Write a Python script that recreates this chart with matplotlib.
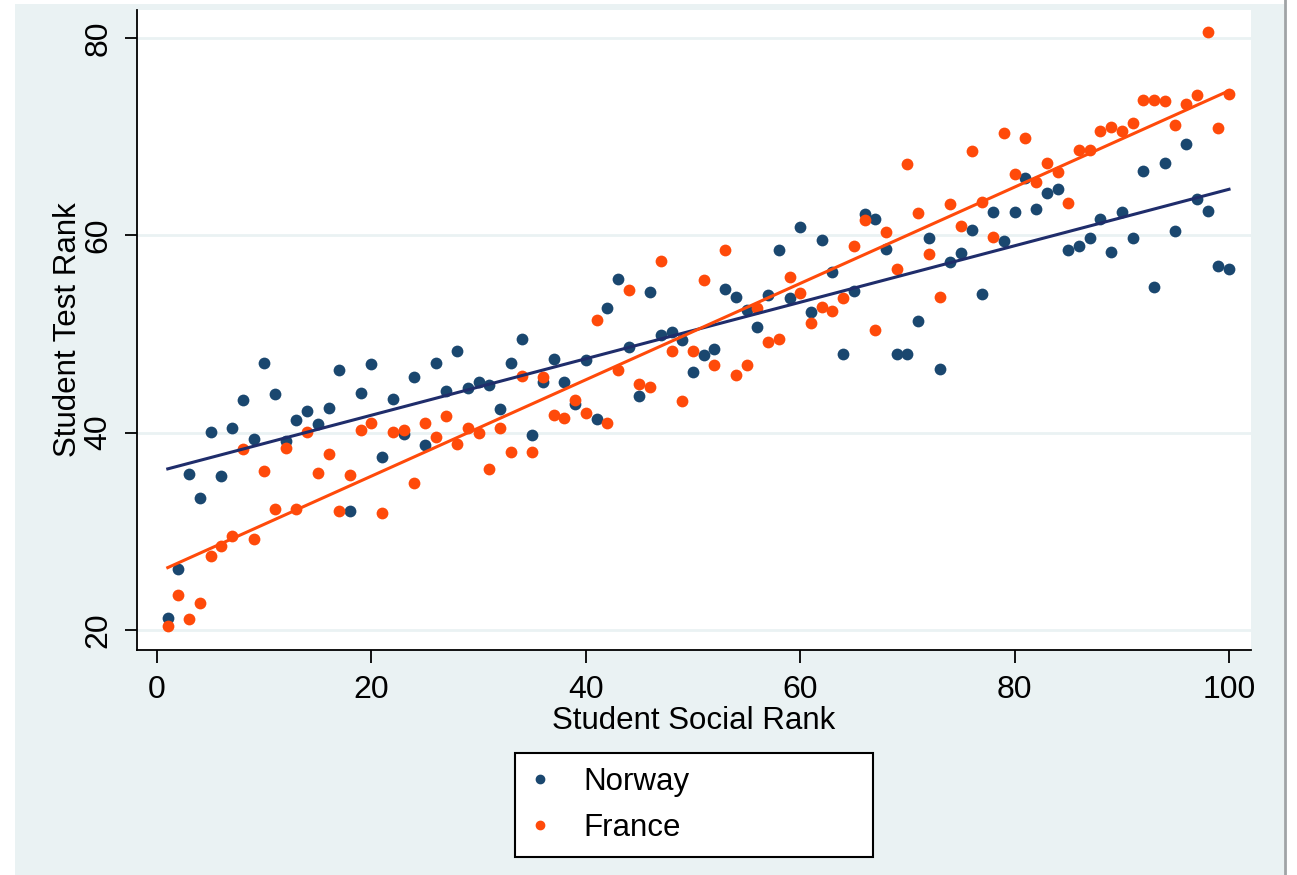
import numpy as np
import matplotlib.pyplot as plt
from matplotlib.patches import Rectangle
from matplotlib.lines import Line2D

plt.rcParams['font.family'] = ['Liberation Sans', 'DejaVu Sans']

social_rank = list(range(1, 101))

norway = [21.2, 26.2, 35.8, 33.4, 40.1, 35.6, 40.5, 43.3, 39.4, 47.1,
          43.9, 39.2, 41.3, 42.2, 40.9, 42.5, 46.3, 32.1, 44.0, 47.0,
          37.5, 43.4, 39.9, 45.6, 38.7, 47.1, 44.2, 48.3, 44.5, 45.1,
          44.8, 42.4, 47.1, 49.5, 39.8, 45.1, 47.5, 45.1, 42.9, 47.4,
          41.4, 52.6, 55.6, 48.7, 43.7, 54.3, 49.9, 50.2, 49.4, 46.1,
          47.9, 48.5, 54.6, 53.7, 52.4, 50.7, 54.0, 58.5, 53.6, 60.8,
          52.2, 59.5, 56.3, 48.0, 54.4, 62.2, 61.7, 58.6, 48.0, 48.0,
          51.3, 59.7, 46.5, 57.3, 58.2, 60.5, 54.1, 62.4, 59.4, 62.4,
          65.8, 62.7, 64.3, 64.7, 58.5, 58.9, 59.7, 61.7, 58.3, 62.4,
          59.7, 66.5, 54.8, 67.3, 60.4, 69.3, 63.7, 62.5, 56.9, 56.6]

france = [20.4, 23.5, 21.1, 22.7, 27.5, 28.5, 29.5, 38.3, 29.2, 36.1,
          32.3, 38.4, 32.3, 40.1, 35.9, 37.8, 32.1, 35.7, 40.3, 41.0,
          31.9, 40.1, 40.3, 34.9, 41.0, 39.6, 41.7, 38.8, 40.5, 40.0,
          36.3, 40.5, 38.0, 45.7, 38.0, 45.6, 41.8, 41.5, 43.3, 42.0,
          51.4, 41.0, 46.4, 54.5, 44.9, 44.6, 57.4, 48.3, 43.2, 48.3,
          55.5, 46.9, 58.5, 45.8, 46.9, 52.6, 49.2, 49.5, 55.8, 54.2,
          51.1, 52.7, 52.3, 53.6, 58.9, 61.6, 50.4, 60.3, 56.6, 67.2,
          62.3, 58.1, 53.7, 63.2, 60.9, 68.5, 63.4, 59.8, 70.4, 66.2,
          69.9, 65.4, 67.3, 66.4, 63.3, 68.6, 68.6, 70.6, 71.0, 70.6,
          71.4, 73.7, 73.7, 73.6, 71.2, 73.3, 74.2, 80.6, 70.9, 74.3]

navy = '#1A476F'
navy_line = '#1F2D6B'
orange = '#FF4A0A'
bg = '#EAF2F3'

x = np.array(social_rank)
fig = plt.figure(figsize=(12.97, 8.75), dpi=100, facecolor='white')
fig.patches.append(Rectangle((15/1297, 0), 1269/1297, 871/875, transform=fig.transFigure,
                             facecolor=bg, edgecolor='none', zorder=-10))
fig.lines.append(Line2D([1285/1297, 1285/1297], [0, 1], transform=fig.transFigure,
                        color='#A0A4A6', lw=2, zorder=-10))

ax = fig.add_axes([137/1297, 1-650/875, (1251-137)/1297, 640/875])
ax.set_zorder(1)
ax.set_facecolor('white')

ax.scatter(x, norway, s=72, color=navy, linewidths=0, zorder=3, label='Norway')
ax.scatter(x, france, s=72, color=orange, linewidths=0, zorder=3, label='France')

# linear fit lines
for vals, c in [(norway, navy_line), (france, orange)]:
    b, a = np.polyfit(x, vals, 1)
    xs = np.array([x.min(), x.max()])
    ax.plot(xs, a + b*xs, color=c, lw=2.2, zorder=4)

ax.set_xlim(-1.87, 102.05)
ax.set_ylim(17.97, 82.84)
ax.set_xticks([0, 20, 40, 60, 80, 100])
ax.set_yticks([20, 40, 60, 80])
ax.yaxis.grid(True, color=bg, lw=2)
ax.set_axisbelow(True)
for s in ['top', 'right']:
    ax.spines[s].set_visible(False)
for s in ['left', 'bottom']:
    ax.spines[s].set_linewidth(1.3)
ax.tick_params(axis='both', length=9, width=1.3, labelsize=23)
ax.tick_params(axis='x', pad=9)
ax.tick_params(axis='y', pad=8)
plt.setp(ax.get_yticklabels(), rotation=90, va='center')
ax.set_xlabel('Student Social Rank', fontsize=22.5, labelpad=1)
ax.set_ylabel('Student Test Rank', fontsize=22.5, labelpad=0)

handles = [Line2D([], [], marker='o', ls='', color=navy, markersize=6),
           Line2D([], [], marker='o', ls='', color=orange, markersize=6)]
leg = fig.legend(handles, ['Norway', 'France'], loc='upper left',
                 bbox_to_anchor=(515/1297, 1-753/875, 358/1297, 0), mode='expand',
                 fontsize=22.5, frameon=True, fancybox=False, edgecolor='black',
                 borderpad=0.45, labelspacing=0.5, handletextpad=1.03, handlelength=0.7,
                 borderaxespad=0)
leg.get_frame().set_linewidth(1.5)
leg.get_frame().set_facecolor('white')
leg.get_frame().set_alpha(1)

fig.savefig('out.png', dpi=100, facecolor=fig.get_facecolor())
